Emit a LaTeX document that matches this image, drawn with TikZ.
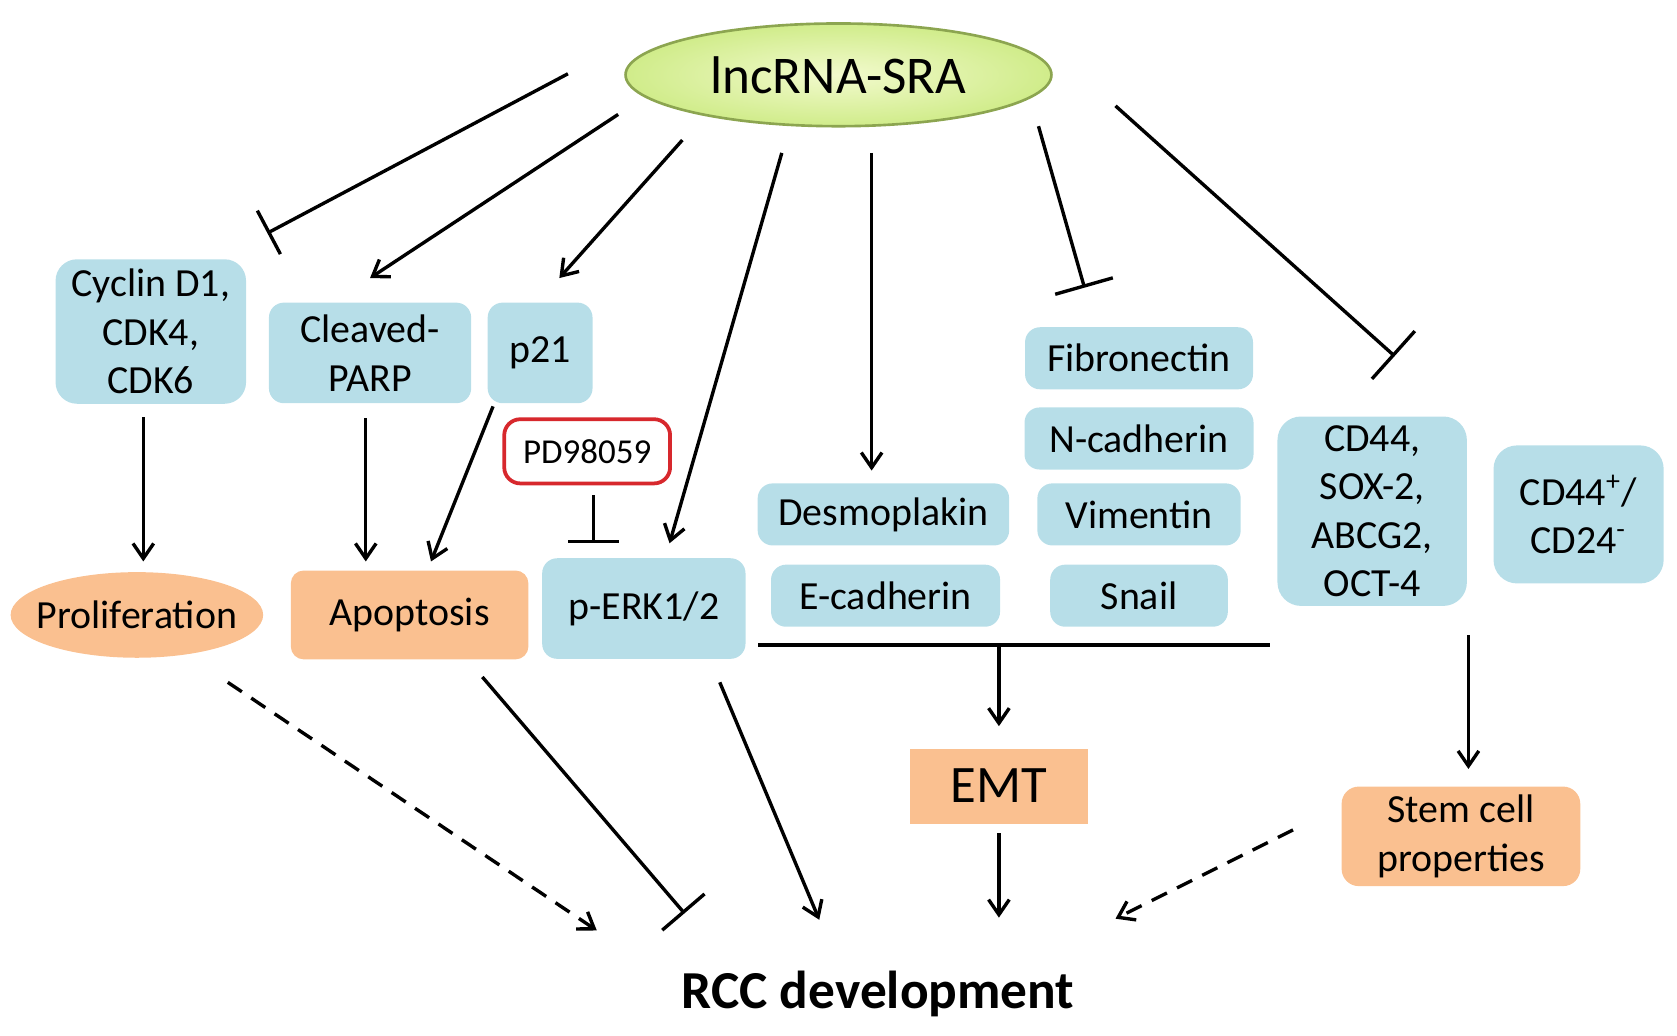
\documentclass[tikz,border=0pt]{standalone}
\usepackage{fontspec}
\setmainfont{Carlito}
\usepackage{xcolor}
\usepackage{tikz}
\usetikzlibrary{shapes,arrows.meta}
\usetikzlibrary{positioning}

\definecolor{protblue}{RGB}{183,222,232}
\definecolor{outorange}{RGB}{250,192,144}
\definecolor{sralight}{RGB}{242,250,205}
\definecolor{sradark}{RGB}{208,236,138}
\definecolor{sraedge}{RGB}{140,165,80}
\definecolor{pdred}{RGB}{215,40,45}

\begin{document}
\begin{tikzpicture}[x=0.01cm,y=-0.01cm,line width=0.9pt]
\useasboundingbox (0,0) rectangle (1568,968);

\tikzset{>={Straight Barb[length=4pt,width=5.5pt]},
	inh/.style={-{Bar[width=#1]}}, inh/.default=5mm}
\def\fs{\fontsize{10.6}{12.9}\selectfont}
\tikzstyle{prot} = [fill=protblue, rounded corners=1.4mm, align=center,
	inner sep=0pt, font=\fs];
\tikzstyle{outc} = [fill=outorange, rounded corners=1.4mm, align=center,
	inner sep=0pt, font=\fs];
\tikzstyle{act} = [->];
\tikzstyle{dsh} = [->, dash pattern=on 4.5pt off 3pt];

% top
\node[ellipse, draw=sraedge, line width=0.7pt, inner color=sralight, outer color=sradark,
	minimum width=39.8mm, minimum height=9.6mm, inner sep=0pt,
	font=\fontsize{14.1}{16}\selectfont] (sra) at (784,70) {lncRNA-SRA};

% targets
\node[prot, rounded corners=2mm, minimum width=17.8mm, minimum height=13.5mm] (cyc) at (141,310) {Cyclin D1,\\CDK4,\\CDK6};
\node[prot, minimum width=18.9mm, minimum height=9.4mm] (parp) at (346,330) {Cleaved-\\PARP};
\node[prot, minimum width=9.8mm, minimum height=9.4mm] (p21) at (505,330) {p21};
\node[draw=pdred, fill=white, rounded corners=1.5mm, line width=1pt,
	minimum width=15.5mm, minimum height=6mm, inner sep=0pt,
	font=\fontsize{9.3}{11}\selectfont] (pd) at (549,422) {PD98059};
\node[prot, minimum width=19mm, minimum height=9.4mm] (perk) at (602,569) {p-ERK1/2};
\node[prot, minimum width=23.5mm, minimum height=5.8mm] (desmo) at (826,481) {Desmoplakin};
\node[prot, minimum width=21.4mm, minimum height=5.8mm] (ecad) at (828,557) {E-cadherin};
\node[prot, minimum width=21.3mm, minimum height=5.8mm] (fib) at (1065,335) {Fibronectin};
\node[prot, minimum width=21.4mm, minimum height=5.8mm] (ncad) at (1065,410) {N-cadherin};
\node[prot, minimum width=19mm, minimum height=5.8mm] (vim) at (1065,481) {Vimentin};
\node[prot, minimum width=16.6mm, minimum height=5.8mm] (snail) at (1065,557) {Snail};
\node[prot, rounded corners=2.2mm, minimum width=17.7mm, minimum height=17.7mm] (cd) at (1283,478) {CD44,\\SOX-2,\\ABCG2,\\OCT-4};
\node[prot, rounded corners=2.2mm, minimum width=15.9mm, minimum height=12.9mm] (cdpos) at (1476,481) {CD44\textsuperscript{+}/\\CD24\textsuperscript{-}};

% outcomes
\node[outc, ellipse, inner xsep=-1.2mm, minimum width=23.6mm, minimum height=8mm] (prolif) at (128,575) {Proliferation};
\node[outc, rounded corners=1.2mm, minimum width=22.2mm, minimum height=8.3mm] (apop) at (383,575) {Apoptosis};
\node[outc, rounded corners=0mm, minimum width=16.6mm, minimum height=7mm,
	font=\fontsize{14}{16}\selectfont] (emt) at (934,735) {EMT};
\node[outc, rounded corners=1.6mm, minimum width=22.3mm, minimum height=9.3mm] (stem) at (1366,782) {Stem cell\\properties};
\node[anchor=base, inner sep=0pt, font=\bfseries\fontsize{14.2}{17}\selectfont] (rcc) at (821,943) {RCC development};

\draw[inh=4.6mm] ([shift={(-253,-1)}]sra.center) -- ([shift={(109,-92)}]cyc.center);
\draw[act] ([shift={(-206,37)}]sra.center) -- ([shift={(0,-70)}]parp.center);
\draw[act] ([shift={(-146,61)}]sra.center) -- ([shift={(18,-70)}]p21.center);
\draw[act] ([shift={(-53,73)}]sra.center) -- ([shift={(24,-61)}]perk.center);
\draw[act] ([shift={(31,73)}]sra.center) -- ([shift={(-11,-41)}]desmo.center);
\draw[inh=5.6mm] ([shift={(187,48)}]sra.center) -- ([shift={(-51,-66)}]fib.center);
\draw[inh=6mm] ([shift={(259,29)}]sra.center) -- ([shift={(21,-145)}]cd.center);

\draw[act] ([shift={(-7,80)}]cyc.center) -- ([shift={(6,-50)}]prolif.center);
\draw[act] ([shift={(-4,61)}]parp.center) -- ([shift={(-41,-50)}]apop.center);
\draw[act] ([shift={(-44,50)}]p21.center) -- ([shift={(20,-50)}]apop.center);
\draw[inh=4.7mm] ([shift={(6,41)}]pd.center) -- ([shift={(-47,-61)}]perk.center);

\draw[line width=1.2pt] (709,603) coordinate (gl) -- (1187,603) coordinate (gr);
\draw[act] (emt.north |- gl) -- ([shift={(0,-56)}]emt.center);
\draw[act] ([shift={(0,44)}]emt.center) -- ([shift={(113,-85)}]rcc.base);
\draw[act] ([shift={(90,116)}]cd.center) -- ([shift={(7,-63)}]stem.center);

\draw[dsh] ([shift={(85,63)}]prolif.center) -- ([shift={(-263,-73)}]rcc.base);
\draw[inh=5.2mm] ([shift={(68,58)}]apop.center) -- ([shift={(-181,-89)}]rcc.base);
\draw[act] ([shift={(71,69)}]perk.center) -- ([shift={(-55,-83)}]rcc.base);
\draw[dsh] ([shift={(-157,-6)}]stem.center) -- ([shift={(222,-84)}]rcc.base);

\end{tikzpicture}
\end{document}
